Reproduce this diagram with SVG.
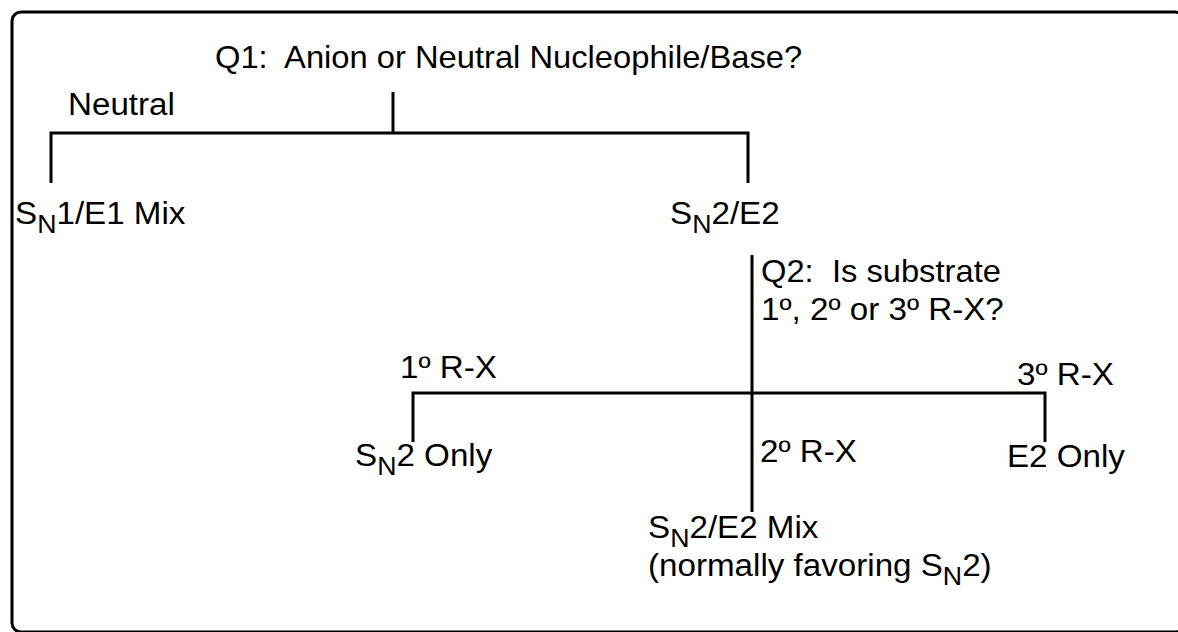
<svg xmlns="http://www.w3.org/2000/svg" width="1178" height="632" viewBox="0 0 1178 632">
  <style>
    .t { font-family: "Liberation Sans", Arial, Helvetica, sans-serif; font-size: 31px; fill: #000; white-space: pre; }
    .sub { font-size: 25px; }
    .ln { fill: none; stroke: #000; stroke-width: 3; stroke-linejoin: miter; stroke-linecap: butt; }
  </style>
  <rect x="0" y="0" width="1178" height="632" fill="#fff"/>
  <rect id="frame" x="12" y="12" width="1172" height="620" rx="9" ry="9" fill="none" stroke="#000" stroke-width="3"/>

  <g id="connectors">
    <path class="ln" d="M393 92 V133"/>
    <path class="ln" d="M51 183 V133 H748 V183"/>
    <path class="ln" d="M752 255 V512"/>
    <path class="ln" d="M413 442 V393 H1045 V442"/>
  </g>

  <g id="q1">
    <text class="t" xml:space="preserve" transform="translate(215,68) scale(1.055,1)">Q1:  Anion or Neutral Nucleophile/Base?</text>
  </g>
  <g id="neutral">
    <text class="t" transform="translate(68,115) scale(1.07,1)">Neutral</text>
  </g>
  <g id="sn1e1">
    <text class="t" transform="translate(15,224) scale(1.07,1)">S<tspan class="sub" dy="9">N</tspan><tspan dy="-9">1/E1 Mix</tspan></text>
  </g>
  <g id="sn2e2">
    <text class="t" transform="translate(670,224) scale(1.07,1)">S<tspan class="sub" dy="9">N</tspan><tspan dy="-9">2/E2</tspan></text>
  </g>
  <g id="q2">
    <text class="t" xml:space="preserve" transform="translate(761,282) scale(1.055,1)">Q2:  Is substrate</text>
    <text class="t" transform="translate(761,320) scale(1.07,1)">1º, 2º or 3º R-X?</text>
  </g>
  <g id="primary">
    <text class="t" transform="translate(400,378) scale(1.07,1)">1º R-X</text>
  </g>
  <g id="tertiary">
    <text class="t" transform="translate(1017,385) scale(1.07,1)">3º R-X</text>
  </g>
  <g id="sn2only">
    <text class="t" transform="translate(355,466) scale(1.07,1)">S<tspan class="sub" dy="9">N</tspan><tspan dy="-9">2 Only</tspan></text>
  </g>
  <g id="secondary">
    <text class="t" transform="translate(760,462) scale(1.07,1)">2º R-X</text>
  </g>
  <g id="e2only">
    <text class="t" transform="translate(1007,467) scale(1.07,1)">E2 Only</text>
  </g>
  <g id="mix">
    <text class="t" transform="translate(648,538) scale(1.07,1)">S<tspan class="sub" dy="9">N</tspan><tspan dy="-9">2/E2 Mix</tspan></text>
    <text class="t" transform="translate(648,576) scale(1.07,1)">(normally favoring S<tspan class="sub" dy="9">N</tspan><tspan dy="-9">2)</tspan></text>
  </g>
</svg>
